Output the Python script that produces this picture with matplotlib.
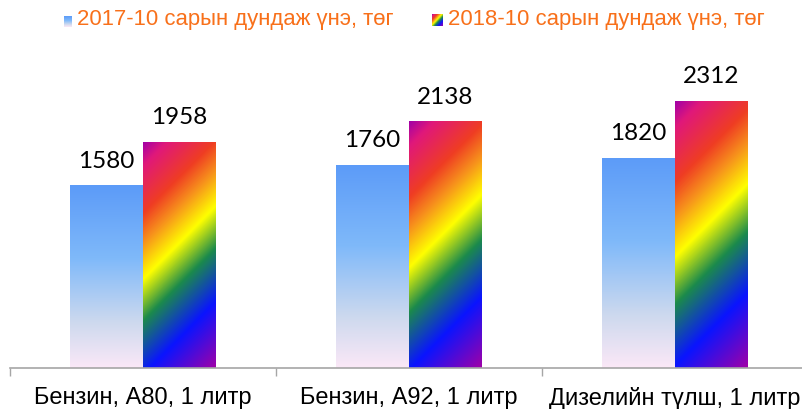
import numpy as np
import matplotlib
matplotlib.use("Agg")
import matplotlib.pyplot as plt
from matplotlib.colors import LinearSegmentedColormap

categories = ["Бензин, А80, 1 литр", "Бензин, А92, 1 литр", "Дизелийн түлш, 1 литр"]
series_names = ["2017-10 сарын дундаж үнэ, төг", "2018-10 сарын дундаж үнэ, төг"]
prices_2017 = [1580, 1760, 1820]
prices_2018 = [1958, 2138, 2312]

W, H, DPI = 803, 409, 100
fig = plt.figure(figsize=(W / DPI, H / DPI), dpi=DPI)
ax = fig.add_axes([10 / W, 1 - 368 / H, 798 / W, (368 - 79) / H])
ax.set_xlim(0, 3)
ax.set_ylim(0, 2500)

# colour ramps
blue_cmap = LinearSegmentedColormap.from_list(
    "soft_blue",
    [(0.0, "#5c9bf8"), (0.4, "#7fb9fa"), (0.75, "#cdd9ee"), (1.0, "#fbe8f7")])
rainbow_cmap = LinearSegmentedColormap.from_list(
    "rainbow_fill",
    [(0.0, "#a000a8"), (0.08, "#e0187a"), (0.24, "#ef3d23"), (0.34, "#f7921c"),
     (0.46, "#ffff00"), (0.60, "#1b8a4c"), (0.78, "#0a14ff"), (1.0, "#a000a8")])

bar_w = 0.274
x = np.arange(len(categories)) + 0.5


def pixel_size(x0, x1, y0, y1):
    p0 = ax.transData.transform((x0, y0))
    p1 = ax.transData.transform((x1, y1))
    return abs(p1[0] - p0[0]), abs(p1[1] - p0[1])


def fill_vertical(patch):
    x0, y0 = patch.get_x(), patch.get_y()
    x1, y1 = x0 + patch.get_width(), y0 + patch.get_height()
    grad = np.linspace(0, 1, 256).reshape(-1, 1)
    im = ax.imshow(grad, cmap=blue_cmap, aspect="auto", origin="upper",
                   extent=(x0, x1, y0, y1), interpolation="bilinear", zorder=2)
    im.set_clip_path(patch)


def fill_diagonal(patch):
    x0, y0 = patch.get_x(), patch.get_y()
    x1, y1 = x0 + patch.get_width(), y0 + patch.get_height()
    wp, hp = pixel_size(x0, x1, y0, y1)
    cols, rows = int(round(wp)) * 2, int(round(hp)) * 2
    u = np.linspace(0, wp, cols)[None, :]
    v = np.linspace(0, hp, rows)[:, None]
    t = (u + v) / (wp + hp)
    im = ax.imshow(t, cmap=rainbow_cmap, vmin=0, vmax=1, aspect="auto",
                   origin="upper", extent=(x0, x1, y0, y1),
                   interpolation="bilinear", zorder=2)
    im.set_clip_path(patch)


bars_a = ax.bar(x - bar_w / 2, prices_2017, width=bar_w, color="none",
                edgecolor="none", zorder=1)
bars_b = ax.bar(x + bar_w / 2, prices_2018, width=bar_w, color="none",
                edgecolor="none", zorder=1)
for p in bars_a:
    fill_vertical(p)
for p in bars_b:
    fill_diagonal(p)

label_font = dict(family="Lato", fontsize=17.5, color="#000000")
label_gap = 150
for xi, v in zip(x - bar_w / 2, prices_2017):
    ax.text(xi, v + label_gap, f"{v}", ha="center", va="baseline", **label_font)
for xi, v in zip(x + bar_w / 2, prices_2018):
    ax.text(xi, v + label_gap, f"{v}", ha="center", va="baseline", **label_font)

for s in ["top", "right", "left"]:
    ax.spines[s].set_visible(False)
ax.spines["bottom"].set_color("#a6a6a6")
ax.spines["bottom"].set_linewidth(1.2)
ax.set_yticks([])
ax.set_xticks([0, 1, 2, 3])
ax.set_xticklabels([])
ax.tick_params(axis="x", length=6, color="#a6a6a6", width=1)
ax.set_xticks(x, minor=True)
ax.set_xticklabels(categories, minor=True, family="Liberation Sans",
                   fontsize=17, color="#000000")
ax.tick_params(axis="x", which="minor", length=0, pad=14)

# legend: gradient swatches with orange captions
legend_items = [(64, 72, 16, 27, blue_cmap, "v", 77),
                (432, 443, 14, 26, rainbow_cmap, "d", 448)]
for (sx0, sx1, sy0, sy1, cmap, kind, tx), name in zip(legend_items, series_names):
    sw = fig.add_axes([sx0 / W, 1 - sy1 / H, (sx1 - sx0) / W, (sy1 - sy0) / H])
    if kind == "v":
        sw.imshow(np.linspace(0, 1, 64).reshape(-1, 1), cmap=cmap, aspect="auto")
    else:
        g = np.linspace(0, 1, 32)
        sw.imshow((g[None, :] + g[:, None]) / 2, cmap=cmap, aspect="auto")
    sw.axis("off")
    fig.text(tx / W, 1 - 20 / H, name, ha="left", va="center",
             family="Liberation Sans", fontsize=15.9, color="#f8701a")

fig.savefig("out.png", dpi=DPI)
